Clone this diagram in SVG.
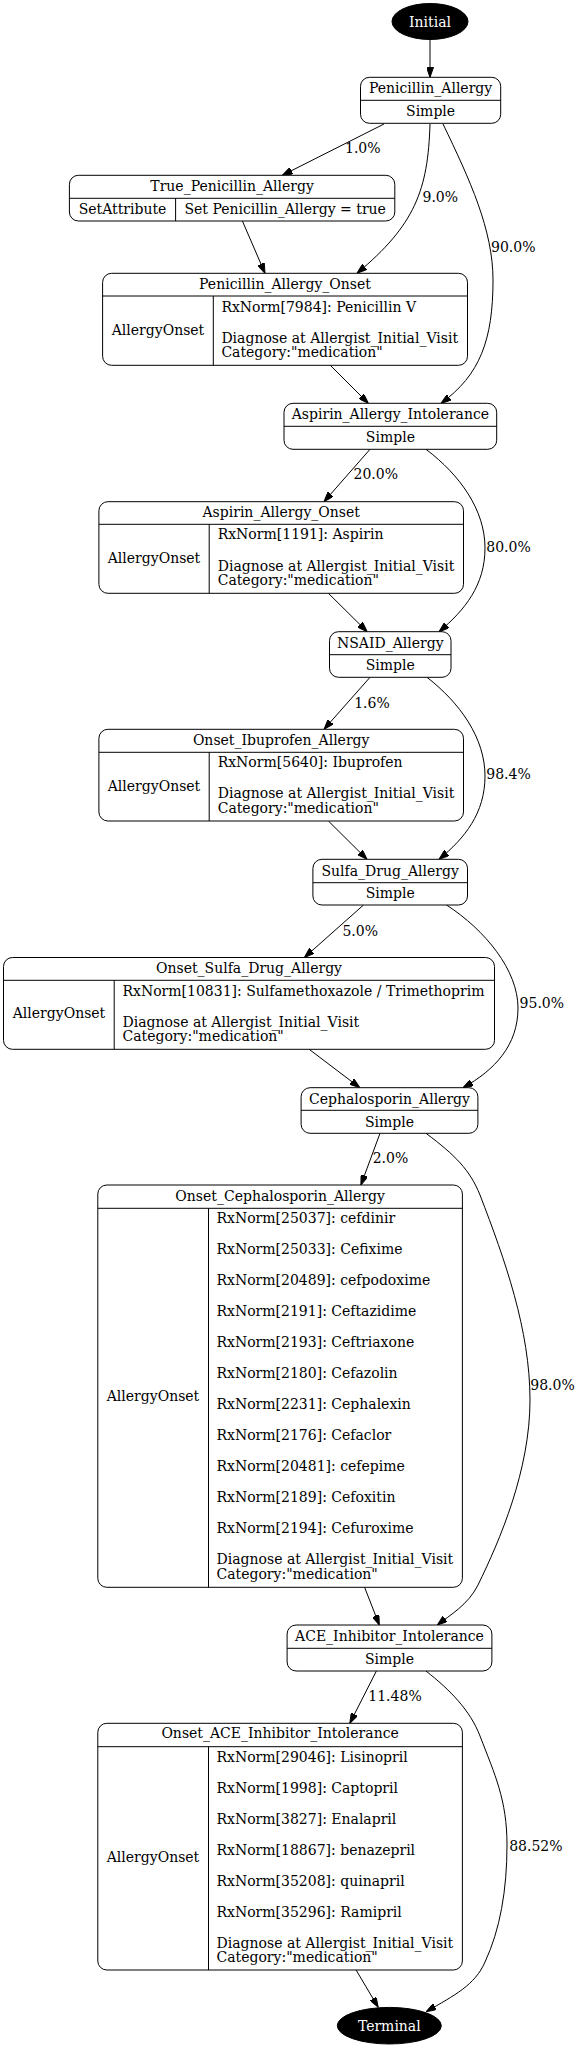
<svg xmlns="http://www.w3.org/2000/svg" width="578" height="2048" viewBox="0 0 578 2048">
<style>
text{font-family:"DejaVu Serif","Liberation Serif",serif;font-size:14px;fill:#000}
.c{text-anchor:middle}
.w{fill:#fff}
.b{fill:#fff;stroke:#000;stroke-width:1}
.l{stroke:#000;stroke-width:1;fill:none}
.e{fill:none;stroke:#000;stroke-width:1;marker-end:url(#a)}
</style>
<defs>
<marker id="a" markerWidth="10" markerHeight="7" refX="10" refY="3.5" orient="auto" markerUnits="userSpaceOnUse">
<path d="M0,0 L10,3.5 L0,7 z" fill="#000" stroke="#000" stroke-width="1"/>
</marker>
</defs>
<rect width="578" height="2048" fill="#fff"/>
<g id="connectors">
<path class="e" d="M430,39.5 L430,77.3"/>
<path class="e" d="M384,124 L282.3,175.3"/>
<path class="e" d="M430,124 C428,190 415,225 357,273.3"/>
<path class="e" d="M443,124 C470,180 493,230 493,280 C493,340 480,375 441,403.3"/>
<path class="e" d="M242.4,221 L265,273.3"/>
<path class="e" d="M330.3,365.3 L368.3,403.3"/>
<path class="e" d="M370,449.3 L324,501.7"/>
<path class="e" d="M426,449.3 C460,475 485,510 485,548 C485,585 465,610 439,631.7"/>
<path class="e" d="M328.4,593.3 L367.2,631.7"/>
<path class="e" d="M370,677.3 L324,729.3"/>
<path class="e" d="M427,677.3 C460,703 485,738 485,776 C485,813 465,838 439,859.3"/>
<path class="e" d="M328.4,821 L367,859.3"/>
<path class="e" d="M363.5,905 L304.4,957.5"/>
<path class="e" d="M446.5,905 C485,930 518,970 518,1008 C518,1045 495,1070 463,1087.7"/>
<path class="e" d="M309.2,1049.3 L359.8,1087.7"/>
<path class="e" d="M380,1133.3 L360.9,1185"/>
<path class="e" d="M426,1133.3 C455,1155 470,1170 480,1195 C505,1260 530,1330 530,1400 C530,1470 500,1540 478,1585 C468,1605 450,1615 437.3,1625"/>
<path class="e" d="M364.6,1587.3 L379.3,1625"/>
<path class="e" d="M376.4,1671 L349.8,1723.3"/>
<path class="e" d="M426,1671 C450,1690 470,1710 480,1736 C495,1775 507,1800 507,1845 C507,1890 500,1930 485,1962 C475,1985 455,1995 426.2,2011.7"/>
<path class="e" d="M356.1,1970 L378.2,2007.3"/>
<text x="345" y="153.3">1.0%</text>
<text x="422.5" y="202">9.0%</text>
<text x="491" y="251.7">90.0%</text>
<text x="353.5" y="479">20.0%</text>
<text x="486.3" y="551.7">80.0%</text>
<text x="354.2" y="707.7">1.6%</text>
<text x="486.3" y="779.3">98.4%</text>
<text x="342.4" y="935.7">5.0%</text>
<text x="519.6" y="1007.7">95.0%</text>
<text x="372.7" y="1163.3">2.0%</text>
<text x="530.3" y="1390">98.0%</text>
<text x="368.3" y="1701">11.48%</text>
<text x="509.2" y="1850.7">88.52%</text>
</g>
<g id="Initial">
<ellipse cx="430" cy="21.5" rx="38" ry="18" fill="#000" stroke="#000"/>
<text class="c w" x="430" y="26.5">Initial</text>
</g>
<g id="Penicillin_Allergy">
<rect class="b" x="360.5" y="77.3" width="140.2" height="46" rx="9"/>
<line class="l" x1="360.5" y1="100.3" x2="500.7" y2="100.3"/>
<text class="c" x="430.6" y="93.3">Penicillin_Allergy</text>
<text class="c" x="430.6" y="116">Simple</text>
</g>
<g id="True_Penicillin_Allergy">
<rect class="b" x="69.4" y="175.3" width="325.4" height="45.7" rx="9"/>
<line class="l" x1="69.4" y1="198.3" x2="394.8" y2="198.3"/>
<line class="l" x1="175.6" y1="198.3" x2="175.6" y2="221"/>
<text class="c" x="232.1" y="191">True_Penicillin_Allergy</text>
<text class="c" x="122.5" y="214">SetAttribute</text>
<text class="c" x="285.2" y="214">Set Penicillin_Allergy = true</text>
</g>
<g id="Penicillin_Allergy_Onset">
<rect class="b" x="102.6" y="273.3" width="364.9" height="92" rx="9"/>
<line class="l" x1="102.6" y1="296" x2="467.5" y2="296"/>
<line class="l" x1="213.3" y1="296" x2="213.3" y2="365.3"/>
<text class="c" x="285" y="288.7">Penicillin_Allergy_Onset</text>
<text class="c" x="158" y="335">AllergyOnset</text>
<text x="221.4" y="311.7">RxNorm[7984]: Penicillin V</text>
<text x="221.4" y="342.7">Diagnose at Allergist_Initial_Visit</text>
<text x="221.4" y="357.3">Category:"medication"</text>
</g>
<g id="Aspirin_Allergy_Intolerance">
<rect class="b" x="284" y="403.3" width="212.7" height="46" rx="9"/>
<line class="l" x1="284" y1="426.3" x2="496.7" y2="426.3"/>
<text class="c" x="390.4" y="419.3">Aspirin_Allergy_Intolerance</text>
<text class="c" x="390.4" y="442">Simple</text>
</g>
<g id="Aspirin_Allergy_Onset">
<rect class="b" x="98.9" y="501.7" width="364.6" height="91.6" rx="9"/>
<line class="l" x1="98.9" y1="524.3" x2="463.5" y2="524.3"/>
<line class="l" x1="209.2" y1="524.3" x2="209.2" y2="593.3"/>
<text class="c" x="281.2" y="516.7">Aspirin_Allergy_Onset</text>
<text class="c" x="154" y="562.7">AllergyOnset</text>
<text x="217.7" y="539.3">RxNorm[1191]: Aspirin</text>
<text x="217.7" y="570.5">Diagnose at Allergist_Initial_Visit</text>
<text x="217.7" y="585">Category:"medication"</text>
</g>
<g id="NSAID_Allergy">
<rect class="b" x="329.5" y="631.7" width="121.5" height="45.6" rx="9"/>
<line class="l" x1="329.5" y1="654.7" x2="451" y2="654.7"/>
<text class="c" x="390.3" y="647.7">NSAID_Allergy</text>
<text class="c" x="390.3" y="670.3">Simple</text>
</g>
<g id="Onset_Ibuprofen_Allergy">
<rect class="b" x="98.9" y="729.3" width="364.6" height="91.7" rx="9"/>
<line class="l" x1="98.9" y1="752.3" x2="463.5" y2="752.3"/>
<line class="l" x1="209.2" y1="752.3" x2="209.2" y2="821"/>
<text class="c" x="281.2" y="745">Onset_Ibuprofen_Allergy</text>
<text class="c" x="154" y="790.7">AllergyOnset</text>
<text x="217.7" y="767.3">RxNorm[5640]: Ibuprofen</text>
<text x="217.7" y="798.3">Diagnose at Allergist_Initial_Visit</text>
<text x="217.7" y="813">Category:"medication"</text>
</g>
<g id="Sulfa_Drug_Allergy">
<rect class="b" x="312.9" y="859.3" width="154.6" height="45.7" rx="9"/>
<line class="l" x1="312.9" y1="882.7" x2="467.5" y2="882.7"/>
<text class="c" x="390.2" y="875.5">Sulfa_Drug_Allergy</text>
<text class="c" x="390.2" y="898">Simple</text>
</g>
<g id="Onset_Sulfa_Drug_Allergy">
<rect class="b" x="3.5" y="957.5" width="491" height="91.8" rx="9"/>
<line class="l" x1="3.5" y1="980.3" x2="494.5" y2="980.3"/>
<line class="l" x1="114.2" y1="980.3" x2="114.2" y2="1049.3"/>
<text class="c" x="249" y="972.7">Onset_Sulfa_Drug_Allergy</text>
<text class="c" x="59" y="1018.3">AllergyOnset</text>
<text x="122.5" y="995.5">RxNorm[10831]: Sulfamethoxazole / Trimethoprim</text>
<text x="122.5" y="1026.5">Diagnose at Allergist_Initial_Visit</text>
<text x="122.5" y="1041">Category:"medication"</text>
</g>
<g id="Cephalosporin_Allergy">
<rect class="b" x="301.1" y="1087.7" width="176.8" height="45.6" rx="9"/>
<line class="l" x1="301.1" y1="1110.3" x2="477.9" y2="1110.3"/>
<text class="c" x="389.5" y="1103.7">Cephalosporin_Allergy</text>
<text class="c" x="389.5" y="1126.5">Simple</text>
</g>
<g id="Onset_Cephalosporin_Allergy">
<rect class="b" x="97.8" y="1185" width="364.6" height="402.3" rx="9"/>
<line class="l" x1="97.8" y1="1208.3" x2="462.4" y2="1208.3"/>
<line class="l" x1="208.5" y1="1208.3" x2="208.5" y2="1587.3"/>
<text class="c" x="280.1" y="1200.7">Onset_Cephalosporin_Allergy</text>
<text class="c" x="153" y="1401">AllergyOnset</text>
<text x="216.5" y="1223.3">RxNorm[25037]: cefdinir</text>
<text x="216.5" y="1254.3">RxNorm[25033]: Cefixime</text>
<text x="216.5" y="1285.3">RxNorm[20489]: cefpodoxime</text>
<text x="216.5" y="1316.3">RxNorm[2191]: Ceftazidime</text>
<text x="216.5" y="1347.3">RxNorm[2193]: Ceftriaxone</text>
<text x="216.5" y="1378.3">RxNorm[2180]: Cefazolin</text>
<text x="216.5" y="1409.3">RxNorm[2231]: Cephalexin</text>
<text x="216.5" y="1440.3">RxNorm[2176]: Cefaclor</text>
<text x="216.5" y="1471.3">RxNorm[20481]: cefepime</text>
<text x="216.5" y="1502.3">RxNorm[2189]: Cefoxitin</text>
<text x="216.5" y="1533.3">RxNorm[2194]: Cefuroxime</text>
<text x="216.5" y="1564.3">Diagnose at Allergist_Initial_Visit</text>
<text x="216.5" y="1579">Category:"medication"</text>
</g>
<g id="ACE_Inhibitor_Intolerance">
<rect class="b" x="287.1" y="1625" width="204.8" height="46" rx="9"/>
<line class="l" x1="287.1" y1="1648.3" x2="491.9" y2="1648.3"/>
<text class="c" x="389.5" y="1641.3">ACE_Inhibitor_Intolerance</text>
<text class="c" x="389.5" y="1664">Simple</text>
</g>
<g id="Onset_ACE_Inhibitor_Intolerance">
<rect class="b" x="97.8" y="1723.3" width="364.6" height="246.7" rx="9"/>
<line class="l" x1="97.8" y1="1746.7" x2="462.4" y2="1746.7"/>
<line class="l" x1="208.5" y1="1746.7" x2="208.5" y2="1970"/>
<text class="c" x="280.1" y="1738.3">Onset_ACE_Inhibitor_Intolerance</text>
<text class="c" x="153" y="1861.7">AllergyOnset</text>
<text x="216.5" y="1761.7">RxNorm[29046]: Lisinopril</text>
<text x="216.5" y="1792.7">RxNorm[1998]: Captopril</text>
<text x="216.5" y="1823.7">RxNorm[3827]: Enalapril</text>
<text x="216.5" y="1854.7">RxNorm[18867]: benazepril</text>
<text x="216.5" y="1885.7">RxNorm[35208]: quinapril</text>
<text x="216.5" y="1916.7">RxNorm[35296]: Ramipril</text>
<text x="216.5" y="1947.7">Diagnose at Allergist_Initial_Visit</text>
<text x="216.5" y="1962.3">Category:"medication"</text>
</g>
<g id="Terminal">
<ellipse cx="389.3" cy="2025.7" rx="52" ry="18.3" fill="#000" stroke="#000"/>
<text class="c w" x="389.3" y="2030.5">Terminal</text>
</g>
</svg>
